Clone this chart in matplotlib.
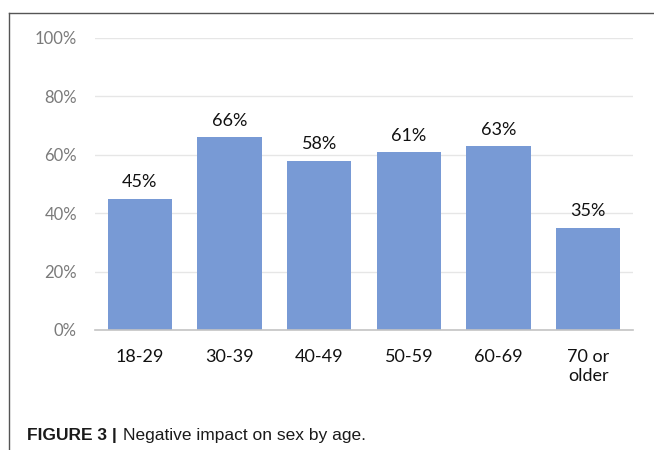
import matplotlib.pyplot as plt
from matplotlib.lines import Line2D

OUT_PATH = "out.png"

categories = ["18-29", "30-39", "40-49", "50-59", "60-69", "70 or\nolder"]
values = [45, 66, 58, 61, 63, 35]
y_ticks = [0, 20, 40, 60, 80, 100]

BAR_COLOR = "#789ad5"
TICK_GRAY = "#7a7a7a"


def plot_bars(path: str = OUT_PATH) -> None:
    fig = plt.figure(figsize=(6.54, 4.5), dpi=100)
    # axes box in figure fraction: x 95..633 px, y 38..330 px (top-down)
    ax = fig.add_axes([95 / 654, 1 - 330 / 450, (633 - 95) / 654, (330 - 38) / 450])

    x = range(len(categories))
    bars = ax.bar(x, values, width=0.72, color=BAR_COLOR, zorder=2)

    ax.set_xlim(-0.5, len(categories) - 0.5)
    ax.set_ylim(0, 100)
    ax.set_yticks(y_ticks)
    ax.set_yticklabels([f"{v}%" for v in y_ticks], fontfamily="Lato",
                       fontsize=12, color=TICK_GRAY)
    ax.set_xticks(list(x))
    ax.set_xticklabels(categories, fontfamily="Lato", fontsize=13,
                       color="#111111", va="top", linespacing=1.2)
    ax.tick_params(axis="both", length=0)
    ax.tick_params(axis="x", pad=14)
    ax.tick_params(axis="y", pad=13)

    ax.grid(axis="y", color="#e6e6e6", linewidth=1, zorder=0)
    for side in ["top", "right", "left"]:
        ax.spines[side].set_visible(False)
    ax.spines["bottom"].set_color("#c4c4c4")
    ax.spines["bottom"].set_linewidth(1.2)
    ax.spines["bottom"].set_zorder(3)

    for bar, v in zip(bars, values):
        ax.annotate(f"{v}%", (bar.get_x() + bar.get_width() / 2, v),
                    xytext=(0, 6), textcoords="offset points",
                    ha="center", va="bottom", fontfamily="Lato",
                    fontsize=13, color="#111111")

    # frame lines (top and left) around the figure panel
    fig.add_artist(Line2D([9 / 654, 9 / 654], [0, 1 - 13 / 450],
                          transform=fig.transFigure, color="#555555", linewidth=1))
    fig.add_artist(Line2D([9 / 654, 1], [1 - 13 / 450, 1 - 13 / 450],
                          transform=fig.transFigure, color="#555555", linewidth=1))

    # caption
    cap_y = 1 - 440 / 450
    cap = fig.text(27 / 654, cap_y, "FIGURE 3 |", fontfamily="Liberation Sans",
                   fontweight="bold", fontsize=12.5, color="#1a1a1a", va="baseline")
    fig.canvas.draw()
    bb = cap.get_window_extent()
    fig.text((bb.x1 + 6) / fig.bbox.width, cap_y,
             "Negative impact on sex by age.", fontfamily="Liberation Sans",
             fontsize=12.5, color="#1a1a1a", va="baseline")

    fig.savefig(path, dpi=100)
    plt.close(fig)


def main() -> None:
    plot_bars()


if __name__ == "__main__":
    main()
